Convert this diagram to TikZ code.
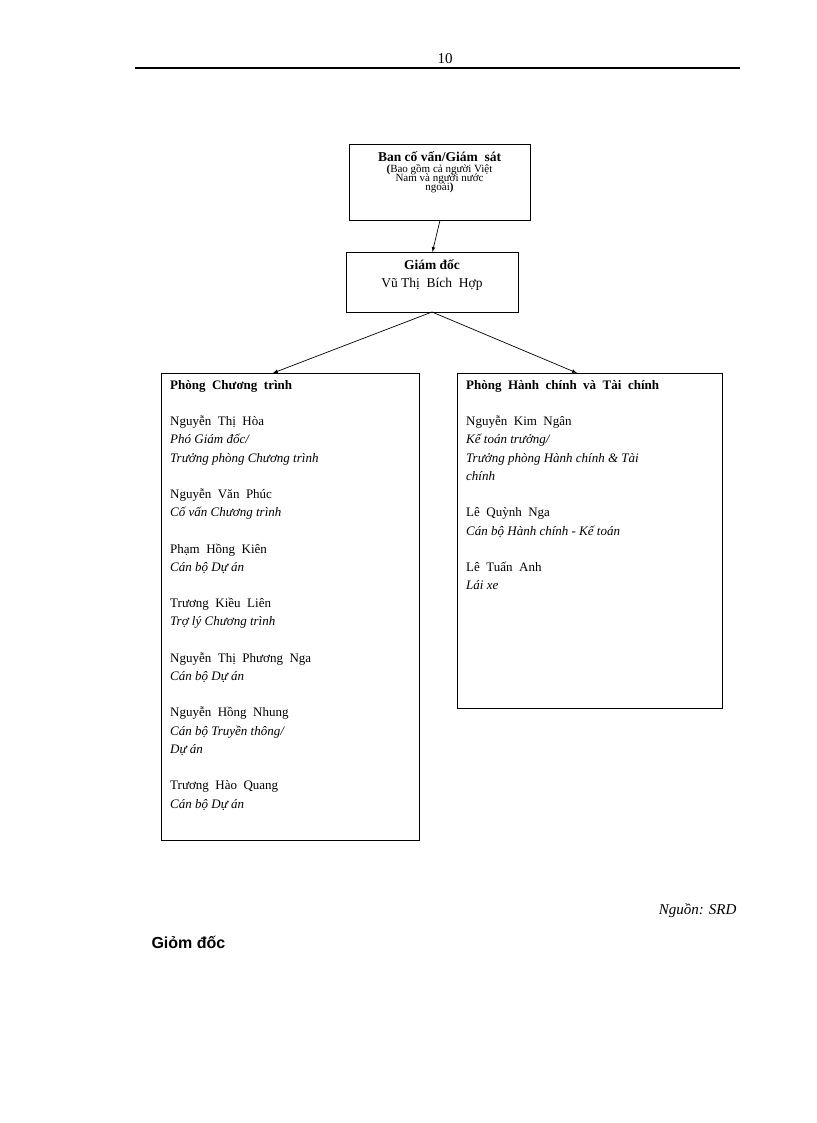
\documentclass[tikz,border=0pt]{standalone}
\usepackage{fontspec}
\setmainfont{Liberation Serif}
\newfontfamily\sansb{Liberation Sans}
\begin{document}
\begin{tikzpicture}[x=1pt,y=-1pt,
 box/.style={draw,line width=0.8pt},
 arr/.style={-latex,line width=0.7pt},
 txt/.style={anchor=north west,align=left,inner sep=0pt,font=\fontsize{13}{18.3}\selectfont}]
\useasboundingbox (0,0) rectangle (816,1123);
\draw[line width=1.2pt] (135,68) -- (740,68);
\node[font=\fontsize{15}{18}\selectfont] (pg) at (445,59) {10};
\node[box,minimum width=181pt,minimum height=76pt,anchor=north west] (ban) at (349,144) {};
\node[anchor=north,align=center,inner sep=0pt] (bant) at (439.5,151) {{\fontsize{13.5}{16}\selectfont\bfseries Ban cố vấn/Giám\ \ sát}\\[-1pt]{\fontsize{11}{15}\selectfont\bfseries (\mdseries Bao gồm cả người Việt}\\[-3pt]{\fontsize{11}{15}\selectfont Nam và người nước}\\[-3pt]{\fontsize{11}{15}\selectfont ngoài\bfseries )}};
\node[box,minimum width=172pt,minimum height=60pt,anchor=north west] (gd) at (346,252) {};
\node[anchor=north,align=center,inner sep=0pt,font=\fontsize{13.5}{18}\selectfont] (gdt) at (432,259) {\bfseries Giám đốc\\Vũ Thị\ \ Bích\ \ Hợp};
\node[box,minimum width=258pt,minimum height=467pt,anchor=north west] (l) at (161,373) {};
\node[box,minimum width=265pt,minimum height=335pt,anchor=north west] (r) at (457,373) {};
\coordinate (gdb) at (432,312);
\draw[arr] (ban.south) -- (gd.north);
\draw[arr] (gdb) -- (273,373);
\draw[arr] (gdb) -- (577,373);
\node[txt] (lt) at (170,380) {\textbf{Phòng\ \ Chương\ \ trình}\\[18pt]
Nguyễn\ \ Thị\ \ Hòa\\ \textit{Phó Giám đốc/}\\ \textit{Trưởng phòng Chương trình}\\[18pt]
Nguyễn\ \ Văn\ \ Phúc\\ \textit{Cố vấn Chương trình}\\[18pt]
Phạm\ \ Hồng\ \ Kiên\\ \textit{Cán bộ Dự án}\\[18pt]
Trương\ \ Kiều\ \ Liên\\ \textit{Trợ lý Chương trình}\\[18pt]
Nguyễn\ \ Thị\ \ Phương\ \ Nga\\ \textit{Cán bộ Dự án}\\[18pt]
Nguyễn\ \ Hồng\ \ Nhung\\ \textit{Cán bộ Truyền thông/}\\ \textit{Dự án}\\[18pt]
Trương\ \ Hào\ \ Quang\\ \textit{Cán bộ Dự án}};
\node[txt] (rt) at (466,380) {\textbf{Phòng\ \ Hành\ \ chính\ \ và\ \ Tài\ \ chính}\\[18pt]
Nguyễn\ \ Kim\ \ Ngân\\ \textit{Kế toán trưởng/}\\ \textit{Trưởng phòng Hành chính \& Tài}\\ \textit{chính}\\[18pt]
Lê\ \ Quỳnh\ \ Nga\\ \textit{Cán bộ Hành chính - Kế toán}\\[18pt]
Lê\ \ Tuấn\ \ Anh\\ \textit{Lái xe}};
\node[anchor=east,font=\fontsize{15}{18}\selectfont\itshape] (src) at (740,911) {Nguồn: SRD};
\node[anchor=west,font=\fontsize{16}{18}\selectfont\sansb\bfseries] (gm) at (148,942) {Giỏm đốc};
\end{tikzpicture}
\end{document}
